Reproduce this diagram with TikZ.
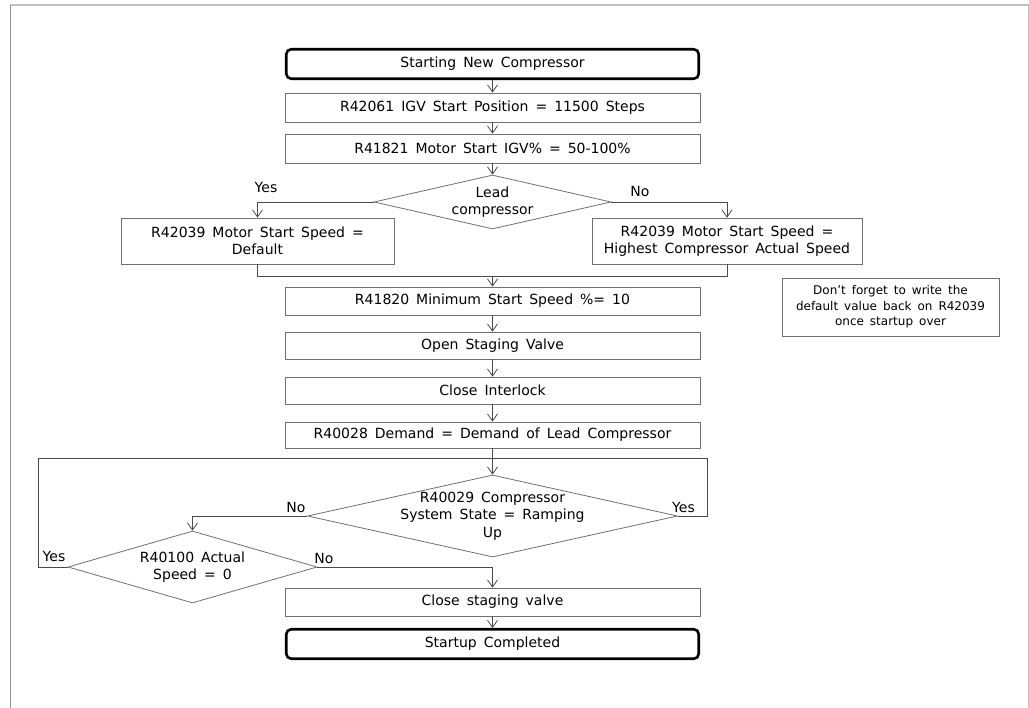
\documentclass[tikz,border=0pt]{standalone}
\usepackage{fontspec}
\setmainfont{DejaVu Sans}
\usetikzlibrary{shapes.geometric,arrows.meta}
\definecolor{boxgrey}{HTML}{6F6F6F}
\definecolor{linegrey}{HTML}{4A4A4A}
\definecolor{topline}{HTML}{B8C2CA}
\definecolor{leftline}{HTML}{7E97A8}
\newcommand{\flowfont}{\fontsize{14}{17.5}\selectfont\spaceskip=0.5em plus 0.1em}
\newcommand{\notefont}{\fontsize{12}{15.5}\selectfont\spaceskip=0.5em plus 0.1em}

\begin{document}
\begin{tikzpicture}[x=1pt,y=-1pt,
    every node/.style={font=\flowfont, align=center, inner sep=0pt},
    procbox/.style={draw=boxgrey, line width=0.8pt, minimum width=415pt, minimum height=29pt},
    termbox/.style={draw=black, line width=2.6pt, rounded corners=5pt, minimum width=412.5pt, minimum height=29.5pt},
    decision/.style={diamond, draw=boxgrey, line width=0.8pt, inner sep=-5pt},
    notebox/.style={draw=boxgrey, line width=0.8pt, font=\notefont, minimum width=217pt, minimum height=58pt},
    flow/.style={draw=linegrey, line width=0.8pt, -{Straight Barb[length=7pt,width=10pt]}},
    wire/.style={draw=linegrey, line width=0.8pt}]
  \useasboundingbox (0,0) rectangle (1029,708);
  \draw[topline, line width=2pt] (10,5) -- (1029,5);
  \draw[leftline, line width=1.2pt] (10.5,5) -- (10.5,708);
  \draw[topline, line width=0.6pt] (1028.5,5) -- (1028.5,708);

  \node[termbox] (start) at (492.5,64) {Starting New Compressor};
  \node[procbox] (igv) at (492.5,107.5) {R42061 IGV Start Position = 11500 Steps};
  \node[procbox] (igvpct) at (492.5,148.5) {R41821 Motor Start IGV\% = 50-100\%};
  \node[decision, aspect=4.4, minimum width=237pt, minimum height=54pt] (lead) at (492.5,202) {Lead\\compressor};
  \node[procbox, minimum width=273pt, minimum height=46pt] (dflt) at (257.5,241) {R42039 Motor Start Speed =\\Default};
  \node[procbox, minimum width=270pt, minimum height=46pt] (highest) at (727,241) {R42039 Motor Start Speed =\\Highest Compressor Actual Speed};
  \coordinate (join) at (492.5,276);
  \node[procbox, minimum height=28pt] (minspd) at (492.5,301) {R41820 Minimum Start Speed \%= 10};
  \node[notebox] (note) at (890.5,307) {Don’t forget to write the\\default value back on R42039\\once startup over};
  \node[procbox, minimum height=27pt] (openv) at (492.5,345.5) {Open Staging Valve};
  \node[procbox, minimum height=27pt] (lock) at (492.5,390.5) {Close Interlock};
  \node[procbox, minimum height=26pt] (demand) at (492.5,435) {R40028 Demand = Demand of Lead Compressor};
  \coordinate (looptop) at (492.5,458);
  \node[decision, aspect=4.5, minimum width=370pt, minimum height=82pt] (ramp) at (492.5,516) {R40029 Compressor\\System State = Ramping\\Up};
  \node[decision, aspect=3.46, minimum width=249pt, minimum height=72pt] (zero) at (192.5,567) {R40100 Actual\\Speed = 0};
  \node[procbox, minimum height=28pt] (closev) at (492.5,602) {Close staging valve};
  \node[termbox] (done) at (492.5,644) {Startup Completed};

  \node (yes1) at (266,187) {Yes};
  \node (no1) at (640,191) {No};
  \node (no2) at (296,507) {No};
  \node (yes2) at (683.5,507) {Yes};
  \node (yes3) at (54,556) {Yes};
  \node (no3) at (324,558) {No};

  \draw[flow] (start) -- (igv);
  \draw[flow] (igv) -- (igvpct);
  \draw[flow] (igvpct) -- (lead);
  \draw[flow] (lead.west) -| (dflt.north);
  \draw[flow] (lead.east) -| (highest.north);
  \draw[wire] (dflt.south) |- (join);
  \draw[wire] (highest.south) |- (join);
  \draw[flow] (join) -- (minspd.north);
  \draw[flow] (minspd) -- (openv);
  \draw[flow] (openv) -- (lock);
  \draw[flow] (lock) -- (demand);
  \draw[flow] (demand) -- (ramp.north);
  \draw[wire] (ramp.east) -- ++(29,0) |- (looptop);
  \draw[wire] (zero.west) -- ++(-29,0) |- (looptop);
  \draw[flow] (ramp.west) -| (zero.north);
  \draw[flow] (zero.east) -| (closev.north);
  \draw[flow] (closev) -- (done);
\end{tikzpicture}
\end{document}
